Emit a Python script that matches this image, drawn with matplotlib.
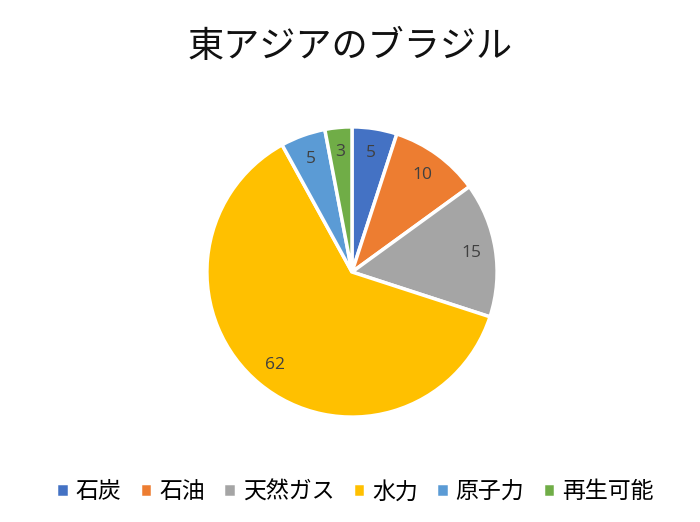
import matplotlib
matplotlib.use("Agg")
import matplotlib.pyplot as plt

plt.rcParams['font.family'] = ['Noto Sans CJK JP', 'DejaVu Sans']

# data
categories = ['石炭', '石油', '天然ガス', '水力', '原子力', '再生可能']
values = [5, 10, 15, 62, 5, 3]
colors = ['#4472C4', '#ED7D31', '#A5A5A5', '#FFC000', '#5B9BD5', '#70AD47']
title = '東アジアのブラジル'

W, H = 700, 522
fig = plt.figure(figsize=(W / 100, H / 100), dpi=100)

# pie centred at (352, 272) px with radius ~148 px
cx, cy, r = 352, 272, 148
ax = fig.add_axes([(cx - r) / W, (H - cy - r) / H, 2 * r / W, 2 * r / H])

wedges, texts, autotexts = ax.pie(
    values,
    colors=colors,
    startangle=90,
    counterclock=False,
    radius=1,
    autopct=lambda p: f'{p:.0f}',
    pctdistance=0.83,
    wedgeprops=dict(edgecolor='white', linewidth=2.5),
    textprops=dict(fontsize=12.5, color='#404040', family=['Open Sans', 'DejaVu Sans']),
)
ax.set_xlim(-1.02, 1.02)
ax.set_ylim(-1.02, 1.02)
ax.set_aspect('equal')
ax.axis('off')

fig.text(0.5, 1 - 47 / H, title, ha='center', va='center', fontsize=26, color='#111111')

fig.legend(
    wedges, categories,
    loc='center', bbox_to_anchor=(0.507, 1 - 492 / H),
    ncol=6, frameon=False, fontsize=16.5,
    handlelength=0.55, handleheight=0.55, handletextpad=0.3,
    columnspacing=0.8,
)

fig.savefig('out.png', dpi=100, facecolor='white')
plt.close(fig)
